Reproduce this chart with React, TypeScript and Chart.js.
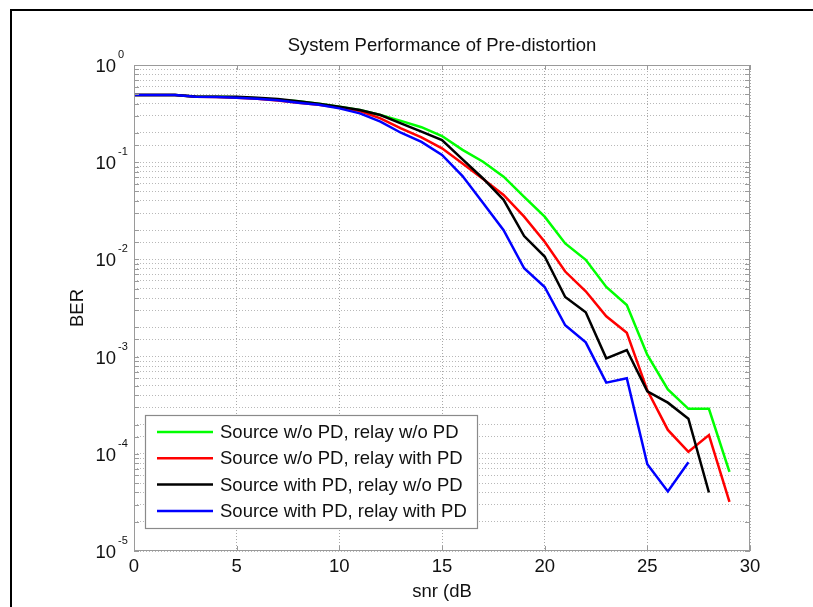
import React, { useEffect, useRef } from 'react';
import { Chart, registerables } from 'chart.js';

Chart.register(...registerables);

// ---- data ----
const snr = [0, 1, 2, 3, 4, 5, 6, 7, 8, 9, 10, 11, 12, 13, 14, 15, 16, 17, 18, 19, 20, 21, 22, 23, 24, 25, 26, 27, 28, 29];

const berSrcNoRelayNo = [0.49, 0.49, 0.49, 0.472, 0.47, 0.465, 0.455, 0.44, 0.425, 0.4, 0.373, 0.344, 0.306, 0.266, 0.229, 0.186, 0.134, 0.101, 0.071, 0.044, 0.0275, 0.0146, 0.0099, 0.0052, 0.0034, 0.00104, 0.00046, 0.00029, 0.00029, 0.000065];
const berSrcNoRelayPD = [0.49, 0.49, 0.49, 0.472, 0.468, 0.46, 0.45, 0.432, 0.41, 0.39, 0.365, 0.336, 0.283, 0.223, 0.18, 0.139, 0.097, 0.067, 0.046, 0.0275, 0.0152, 0.0075, 0.0047, 0.0026, 0.00176, 0.00045, 0.000176, 0.000105, 0.000156, 0.000032];
const berSrcPDRelayNo = [0.49, 0.49, 0.49, 0.474, 0.472, 0.47, 0.46, 0.447, 0.425, 0.4, 0.373, 0.344, 0.306, 0.251, 0.206, 0.169, 0.107, 0.068, 0.041, 0.0174, 0.0107, 0.0041, 0.00286, 0.00096, 0.00117, 0.00044, 0.000336, 0.00023, 0.00004];
const berSrcPDRelayPD = [0.49, 0.49, 0.49, 0.472, 0.468, 0.46, 0.45, 0.435, 0.41, 0.39, 0.358, 0.318, 0.261, 0.201, 0.162, 0.119, 0.072, 0.038, 0.02, 0.0081, 0.0052, 0.0021, 0.0014, 0.00054, 0.0006, 0.000078, 0.000041, 0.000082];

const seriesLabels = [
  'Source w/o PD, relay w/o PD',
  'Source w/o PD, relay with PD',
  'Source with PD, relay w/o PD',
  'Source with PD, relay with PD',
];
const seriesColors = ['#00ff00', '#ff0000', '#000000', '#0000ff'];
const seriesValues = [berSrcNoRelayNo, berSrcNoRelayPD, berSrcPDRelayNo, berSrcPDRelayPD];

const yDecades = [0, -1, -2, -3, -4, -5];
const titleText = 'System Performance of Pre-distortion';
const xTitle = 'snr (dB';
const yTitle = 'BER';

const FONT = '"Liberation Sans", Arial, Helvetica, sans-serif';
const FS = 18.5;

const decorPlugin = {
  id: 'decor',
  beforeDraw(chart: any) {
    const ctx = chart.ctx;
    ctx.save();
    ctx.fillStyle = '#ffffff';
    ctx.fillRect(0, 0, chart.width, chart.height);
    ctx.strokeStyle = '#000000';
    ctx.lineWidth = 2;
    ctx.beginPath();
    ctx.moveTo(11, chart.height);
    ctx.lineTo(11, 10);
    ctx.lineTo(chart.width, 10);
    ctx.stroke();
    ctx.restore();
  },
  afterDraw(chart: any) {
    const ctx = chart.ctx;
    const { left, right, top, bottom } = chart.chartArea;
    const xs = chart.scales.x;
    const ys = chart.scales.y;
    ctx.save();
    const line = (x1: number, y1: number, x2: number, y2: number) => {
      ctx.beginPath();
      ctx.moveTo(x1, y1);
      ctx.lineTo(x2, y2);
      ctx.stroke();
    };
    // frame
    ctx.strokeStyle = '#9a9a9a';
    ctx.lineWidth = 1;
    ctx.strokeRect(left + 0.5, top + 0.5, right - left - 1, bottom - top - 1);
    // inner tick marks
    ys.ticks.forEach((t: any) => {
      const y = Math.round(ys.getPixelForValue(t.value)) + 0.5;
      line(left, y, left + 5, y);
      line(right - 5, y, right, y);
    });
    xs.ticks.forEach((t: any) => {
      const x = Math.round(xs.getPixelForValue(t.value)) + 0.5;
      line(x, bottom, x, bottom - 5);
      line(x, top, x, top + 5);
    });
    // y labels with exponents
    ctx.fillStyle = '#111111';
    yDecades.forEach((d) => {
      const y = ys.getPixelForValue(Math.pow(10, d));
      ctx.font = `${FS}px ${FONT}`;
      ctx.textAlign = 'right';
      ctx.textBaseline = 'alphabetic';
      ctx.fillText('10', 116, y + 7);
      ctx.font = `11px ${FONT}`;
      ctx.textAlign = 'left';
      ctx.fillText(d === 0 ? '0' : '-' + Math.abs(d), 118, y - 7);
    });
    // title
    ctx.font = `${FS}px ${FONT}`;
    ctx.textAlign = 'center';
    ctx.textBaseline = 'alphabetic';
    ctx.fillText(titleText, (left + right) / 2, 51);
    // legend
    const bx = 145, by = 415, bw = 332, bh = 113;
    ctx.fillStyle = '#ffffff';
    ctx.fillRect(bx, by, bw, bh);
    ctx.strokeStyle = '#8a8a8a';
    ctx.lineWidth = 1.2;
    ctx.strokeRect(bx + 0.5, by + 0.5, bw, bh);
    chart.data.datasets.forEach((ds: any, i: number) => {
      const cy = 432 + i * 26.3;
      ctx.strokeStyle = ds.borderColor;
      ctx.lineWidth = 2.5;
      line(157, cy, 213, cy);
      ctx.fillStyle = '#111111';
      ctx.font = `${FS}px ${FONT}`;
      ctx.textAlign = 'left';
      ctx.textBaseline = 'middle';
      ctx.fillText(ds.label, 220, cy + 1);
    });
    ctx.restore();
  },
};

export default function App() {
  const ref = useRef<HTMLCanvasElement | null>(null);
  useEffect(() => {
    if (!ref.current) return;
    const datasets = seriesValues.map((vals, i) => ({
      label: seriesLabels[i],
      data: vals.map((v, j) => ({ x: snr[j], y: v })),
      borderColor: seriesColors[i],
      backgroundColor: seriesColors[i],
      borderWidth: 2.5,
      pointRadius: 0,
      tension: 0,
      fill: false,
      order: 4 - i,
    }));
    const chart = new Chart(ref.current, {
      type: 'line',
      data: { datasets },
      plugins: [decorPlugin],
      options: {
        animation: false,
        responsive: false,
        maintainAspectRatio: false,
        devicePixelRatio: 1,
        layout: { padding: { top: 65, right: 63, bottom: 0, left: 0 } },
        plugins: { legend: { display: false }, title: { display: false }, tooltip: { enabled: false } },
        scales: {
          x: {
            type: 'linear',
            min: 0,
            max: 30,
            afterFit: (s: any) => { s.height = 56; },
            ticks: { stepSize: 5, color: '#111111', font: { family: FONT, size: FS }, padding: 5, maxRotation: 0 },
            grid: { color: '#a8a8a8', lineWidth: 1, drawTicks: false },
            border: { display: false, dash: [1, 2] },
            title: { display: true, text: xTitle, color: '#111111', font: { family: FONT, size: FS }, padding: { top: 0, bottom: 4 } },
          },
          y: {
            type: 'logarithmic',
            min: 1e-5,
            max: 1,
            afterFit: (s: any) => { s.width = 134; },
            ticks: { display: false, autoSkip: false },
            grid: { color: '#b8b8b8', lineWidth: 1, drawTicks: false },
            border: { display: false, dash: [1, 2] },
            title: { display: true, text: yTitle, color: '#111111', font: { family: FONT, size: FS }, padding: { top: 67, bottom: 0 } },
          },
        },
      } as any,
    });
    return () => chart.destroy();
  }, []);
  return (
    <div style={{ position: 'absolute', left: 0, top: 0, width: 813, height: 607 }}>
      <canvas ref={ref} width={813} height={607} style={{ width: 813, height: 607, display: 'block' }} />
    </div>
  );
}
